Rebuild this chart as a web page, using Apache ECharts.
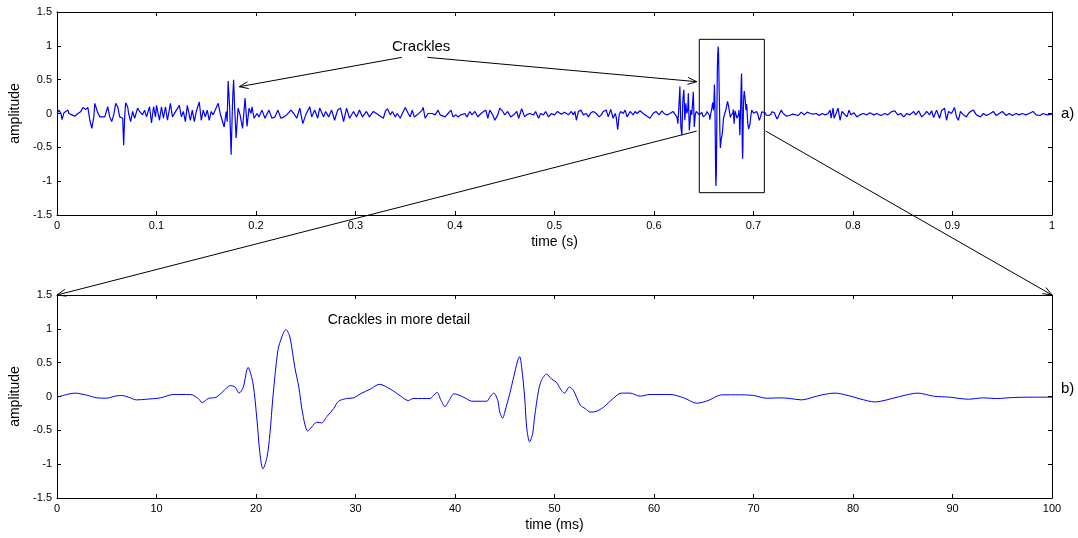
<!DOCTYPE html>
<html>
<head>
    <meta charset="UTF-8">
    <title>Crackles</title>
</head>
<body style="margin: 0; background: #fff">
<div id="container" style="width: 1078px; height: 538px"></div>

<script type="text/javascript" src="https://cdn.jsdelivr.net/npm/echarts@6/dist/echarts.min.js"></script>
<script type="text/javascript">
    // a) whole recording, [time (s), amplitude], before the zoomed window
    var wideBefore = [
        [0.000, 0.0], [0.002, 0.05], [0.004, 0.0], [0.005, -0.09], [0.007, 0.01], [0.011, 0.05], [0.012, 0.0],
        [0.015, -0.02], [0.018, -0.04], [0.021, 0.0], [0.024, 0.03], [0.026, 0.09], [0.029, 0.06], [0.031, 0.09],
        [0.033, -0.1], [0.035, -0.22], [0.037, -0.05], [0.038, 0.15], [0.041, 0.01], [0.043, -0.05], [0.045, -0.07],
        [0.048, -0.05], [0.051, 0.1], [0.053, -0.05], [0.055, -0.12], [0.057, -0.02], [0.059, 0.15], [0.061, 0.1],
        [0.063, -0.05], [0.065, -0.05], [0.066, -0.07], [0.067, -0.47], [0.068, -0.05], [0.069, 0.16], [0.071, 0.1],
        [0.072, 0.0], [0.074, -0.12], [0.076, 0.03], [0.078, -0.07], [0.081, 0.08], [0.083, 0.03], [0.086, -0.02],
        [0.088, 0.05], [0.090, -0.05], [0.093, 0.1], [0.095, -0.14], [0.097, 0.1], [0.099, -0.05], [0.100, 0.12],
        [0.103, -0.1], [0.105, 0.1], [0.107, -0.07], [0.109, 0.1], [0.111, -0.1], [0.114, 0.15], [0.116, -0.05],
        [0.118, -0.07], [0.120, 0.05], [0.123, 0.12], [0.125, -0.05], [0.127, 0.03], [0.129, -0.12], [0.131, 0.12],
        [0.134, -0.1], [0.136, 0.05], [0.138, -0.12], [0.140, 0.03], [0.143, 0.17], [0.145, -0.1], [0.147, 0.05],
        [0.149, -0.05], [0.151, 0.05], [0.153, -0.1], [0.155, 0.03], [0.157, -0.02], [0.159, 0.05], [0.162, 0.15],
        [0.164, 0.0], [0.166, -0.1], [0.168, -0.2],
        [0.170, 0.03], [0.171, -0.12], [0.172, 0.48], [0.1735, 0.1], [0.175, -0.61], [0.1765, 0.2], [0.1775, 0.5],
        [0.1785, 0.1], [0.180, -0.36], [0.182, 0.08], [0.184, -0.02], [0.1865, -0.22], [0.189, 0.23], [0.191, -0.19],
        [0.193, 0.08], [0.195, 0.0], [0.196, 0.1], [0.198, -0.07], [0.201, 0.0], [0.203, -0.05], [0.206, 0.05],
        [0.209, -0.07], [0.213, 0.05], [0.216, -0.07], [0.219, -0.05], [0.222, 0.05], [0.225, -0.07], [0.228, -0.05],
        [0.231, -0.02], [0.235, 0.05], [0.238, 0.0], [0.241, -0.07], [0.244, 0.08], [0.247, -0.15], [0.250, -0.02],
        [0.254, 0.1], [0.256, -0.05], [0.259, 0.05], [0.262, -0.07], [0.264, 0.08], [0.268, -0.05], [0.270, 0.03],
        [0.273, -0.05], [0.276, 0.05], [0.279, -0.1], [0.282, 0.05], [0.285, 0.08], [0.288, -0.12], [0.291, 0.08],
        [0.294, -0.07], [0.298, 0.03], [0.301, -0.05], [0.304, 0.05], [0.307, -0.05], [0.311, 0.03], [0.314, -0.05],
        [0.318, 0.03], [0.321, 0.0], [0.325, -0.04], [0.328, -0.07], [0.330, 0.03], [0.332, 0.07], [0.335, -0.02],
        [0.337, 0.03], [0.340, -0.05], [0.342, 0.0], [0.345, -0.07], [0.347, 0.0], [0.350, 0.09], [0.352, 0.08],
        [0.353, 0.0], [0.355, -0.05], [0.357, 0.05], [0.359, -0.05], [0.362, -0.02], [0.364, 0.0], [0.367, 0.05],
        [0.368, 0.09], [0.370, -0.07], [0.373, 0.0], [0.375, -0.02], [0.377, 0.0], [0.380, -0.02], [0.383, 0.05],
        [0.385, -0.02], [0.387, 0.0], [0.390, -0.05], [0.393, 0.0], [0.396, 0.05], [0.398, -0.05], [0.401, -0.02],
        [0.403, -0.05], [0.406, -0.02], [0.410, 0.0], [0.412, -0.05], [0.415, 0.03], [0.417, -0.02], [0.420, 0.03],
        [0.423, -0.05], [0.426, 0.0], [0.428, -0.02], [0.431, 0.05], [0.433, -0.07], [0.435, 0.05], [0.438, -0.02],
        [0.440, -0.1], [0.443, -0.02], [0.445, 0.08], [0.448, 0.03], [0.450, -0.02], [0.453, 0.03], [0.456, -0.05],
        [0.459, -0.02], [0.462, 0.03], [0.464, -0.07], [0.467, 0.07], [0.470, -0.05], [0.472, -0.02], [0.475, 0.0],
        [0.479, -0.02], [0.481, 0.03], [0.484, -0.07], [0.486, 0.0], [0.489, -0.02], [0.491, 0.03], [0.494, -0.05],
        [0.497, 0.0], [0.500, -0.02],
        [0.503, 0.03], [0.507, -0.01], [0.510, 0.02], [0.514, -0.02], [0.517, 0.03], [0.519, -0.02], [0.5205, 0.03],
        [0.522, -0.1], [0.524, 0.03], [0.5265, 0.05], [0.529, -0.02], [0.532, 0.0], [0.534, -0.05], [0.5365, 0.01],
        [0.539, 0.03], [0.542, 0.0], [0.545, -0.05], [0.547, -0.02], [0.549, 0.03], [0.552, 0.05], [0.554, -0.05],
        [0.5565, 0.06], [0.559, -0.07], [0.561, 0.0], [0.562, -0.05], [0.5635, -0.24], [0.565, -0.02], [0.5665, 0.03],
        [0.569, 0.0], [0.571, 0.05], [0.573, -0.05], [0.576, 0.03], [0.579, -0.02], [0.581, 0.03], [0.583, 0.0],
        [0.586, 0.04], [0.589, 0.0], [0.593, -0.04], [0.596, -0.07], [0.599, 0.0], [0.602, 0.03], [0.605, -0.02],
        [0.608, 0.04], [0.610, 0.0], [0.613, -0.02], [0.616, 0.0], [0.619, 0.03], [0.621, 0.05], [0.623, -0.05],
        [0.624, -0.15], [0.625, 0.1], [0.626, 0.4], [0.627, -0.2], [0.628, -0.32], [0.629, 0.2], [0.630, 0.35],
        [0.631, -0.1], [0.632, 0.15], [0.633, 0.0], [0.634, 0.07], [0.6345, 0.3], [0.6355, -0.25], [0.637, 0.05],
        [0.638, -0.02], [0.6395, 0.32], [0.6405, -0.2]
    ];

    // b) zoomed window, [time (ms), amplitude]
    var detail = [
        [0, -0.01], [1, 0.03], [1.8, 0.05], [3, 0.02], [4, -0.02], [5, -0.025], [5.8, 0.005], [6.5, 0.015],
        [7.2, -0.01], [8, -0.05], [9, -0.04], [10.4, -0.02], [11.7, 0.03], [13.4, 0.03], [14.2, -0.03], [14.6, -0.09],
        [15.2, -0.03], [16, -0.01], [16.8, 0.09], [17.4, 0.16], [17.9, 0.14], [18.3, 0.05], [18.7, 0.13], [19.2, 0.43],
        [19.7, 0.19], [20.1, -0.35], [20.4, -0.85], [20.7, -1.07], [21.1, -0.9], [21.4, -0.55], [21.7, -0.01],
        [22.2, 0.68], [22.6, 0.88], [23.0, 0.99], [23.4, 0.88], [23.9, 0.43], [24.3, 0.14], [24.7, -0.26],
        [25.2, -0.51], [25.6, -0.45], [26.1, -0.38], [26.6, -0.39], [27.1, -0.3], [27.8, -0.18], [28.3, -0.07],
        [29.1, -0.03], [29.8, -0.02], [30.5, 0.04], [31.5, 0.11], [32.4, 0.18], [33.5, 0.11], [34.5, 0.01],
        [35.3, -0.06], [35.8, -0.03], [37.5, -0.03], [37.8, 0.01], [38.2, 0.06], [38.6, -0.06], [39.0, -0.15],
        [39.4, -0.06], [39.9, 0.04], [40.5, 0.015], [41.0, -0.02], [41.7, -0.07], [42.3, -0.07], [43.2, -0.07],
        [43.5, -0.01], [43.9, 0.05], [44.3, -0.06], [44.5, -0.23], [44.8, -0.32], [45.0, -0.23], [45.5, 0.04],
        [45.9, 0.29], [46.3, 0.53], [46.5, 0.59], [46.7, 0.43], [47.0, -0.01], [47.2, -0.45], [47.5, -0.67],
        [47.8, -0.55], [48.0, -0.3], [48.4, 0.09], [48.7, 0.24], [49.2, 0.33], [49.7, 0.26], [50.2, 0.21],
        [50.6, 0.11], [51.0, 0.05], [51.5, 0.14], [51.9, 0.09], [52.6, -0.13], [53.1, -0.18], [53.6, -0.23],
        [54.2, -0.22], [54.9, -0.16], [55.9, -0.03], [56.7, 0.05], [57.6, 0.05], [58.6, 0.005], [59.6, 0.03],
        [61.6, 0.03], [63.0, -0.02], [64.3, -0.1], [65.0, -0.08], [65.6, -0.05], [66.8, 0.025], [68.6, 0.025],
        [70.0, 0.015], [71.3, -0.025], [72.8, -0.02], [73.7, -0.03], [74.8, -0.05], [76.0, -0.01], [76.9, 0.025],
        [78.2, 0.05], [79.5, 0.015], [80.7, -0.035], [82.2, -0.08], [83.4, -0.05], [84.7, 0.0], [86.5, 0.05],
        [88.1, 0.005], [89.7, -0.01], [91.6, -0.04], [93.1, -0.02], [94.4, -0.03], [96.1, -0.015], [98.1, -0.01],
        [100, -0.01]
    ];

    // a) whole recording after the zoomed window
    var wideAfter = [
        [0.745, -0.03], [0.748, 0.02], [0.751, -0.02], [0.754, 0.02], [0.757, 0.0], [0.760, -0.01], [0.763, 0.0],
        [0.766, -0.03], [0.769, 0.0], [0.772, -0.02], [0.775, 0.0], [0.777, 0.05], [0.778, -0.07], [0.780, 0.08],
        [0.781, -0.07], [0.783, 0.0], [0.785, 0.08], [0.787, -0.1], [0.789, 0.03], [0.791, 0.05], [0.794, -0.05],
        [0.796, 0.05], [0.798, -0.02], [0.801, 0.01], [0.804, -0.05], [0.807, -0.02], [0.810, 0.0], [0.814, -0.02],
        [0.817, 0.01], [0.821, -0.02], [0.824, 0.0], [0.828, -0.03], [0.832, 0.0],
        [0.835, -0.02], [0.839, 0.03], [0.842, 0.04], [0.845, -0.02], [0.848, 0.0], [0.851, -0.05], [0.854, 0.0],
        [0.857, -0.02], [0.861, 0.03], [0.863, -0.02], [0.866, 0.04], [0.869, -0.05], [0.872, -0.01], [0.874, 0.03],
        [0.877, -0.02], [0.879, 0.04], [0.881, -0.06], [0.884, 0.05], [0.887, -0.07], [0.889, 0.04], [0.892, 0.08],
        [0.894, -0.1], [0.896, 0.03], [0.899, 0.0], [0.902, 0.09], [0.904, -0.05], [0.906, -0.1], [0.908, 0.03],
        [0.911, -0.02], [0.914, -0.05], [0.916, 0.0], [0.918, 0.03], [0.921, 0.05], [0.924, -0.02], [0.928, -0.05],
        [0.931, 0.0], [0.934, -0.03], [0.938, 0.0], [0.941, 0.03], [0.944, -0.03], [0.947, 0.0], [0.950, 0.03],
        [0.954, -0.03], [0.957, 0.0], [0.960, -0.03], [0.964, 0.0], [0.967, -0.02], [0.970, 0.0], [0.974, -0.02],
        [0.977, 0.0], [0.981, 0.03], [0.984, -0.02], [0.988, -0.03], [0.991, 0.0], [0.995, -0.02], [1.000, -0.01]
    ];

    var detailStart = 0.6415; // s, where window b) sits inside trace a)

    var FONT = '"Liberation Sans", Arial, sans-serif';

    var dom = document.getElementById('container');
    var myChart = echarts.init(dom);

    var wide = wideBefore.concat(
        detail.map(function (p) { return [detailStart + p[0] / 1000, p[1]]; }),
        wideAfter
    );

    function baseAxis(gridIndex, position, min, max, interval, labels) {
        return {
            type: 'value',
            gridIndex: gridIndex,
            position: position,
            min: min,
            max: max,
            interval: interval,
            axisLine: {show: true, onZero: false, lineStyle: {color: '#000', width: 1}},
            axisTick: {show: true, inside: true, length: 4, lineStyle: {color: '#000', width: 1}},
            splitLine: {show: false},
            axisLabel: {
                show: labels,
                color: '#000',
                fontSize: 11,
                fontFamily: FONT,
                margin: 5,
                formatter: function (v) { return String(Math.round(v * 100) / 100); }
            }
        };
    }

    function xName(ax, name) {
        ax.name = name;
        ax.nameLocation = 'middle';
        ax.nameGap = 20;
        ax.nameTextStyle = {color: '#000', fontSize: 14, fontFamily: FONT};
        return ax;
    }

    function yName(ax, name) {
        ax.name = name;
        ax.nameLocation = 'middle';
        ax.nameGap = 32;
        ax.nameTextStyle = {color: '#000', fontSize: 14, fontFamily: FONT};
        return ax;
    }

    function tag(ax, text, vAlign) {
        ax.name = text;
        ax.nameLocation = 'middle';
        ax.nameRotate = 0;
        ax.nameGap = 9;
        ax.nameTextStyle = {color: '#000', fontSize: 15, fontFamily: FONT, align: 'left', verticalAlign: vAlign};
        return ax;
    }

    var option = {
        backgroundColor: '#fff',
        animation: false,
        grid: [
            {left: 57, top: 12, width: 995, height: 203},
            {left: 57, top: 295, width: 995, height: 203}
        ],
        xAxis: [
            xName(baseAxis(0, 'bottom', 0, 1, 0.1, true), 'time (s)'),
            baseAxis(0, 'top', 0, 1, 0.1, false),
            xName(baseAxis(1, 'bottom', 0, 100, 10, true), 'time (ms)'),
            baseAxis(1, 'top', 0, 100, 10, false)
        ],
        yAxis: [
            yName(baseAxis(0, 'left', -1.5, 1.5, 0.5, true), 'amplitude'),
            tag(baseAxis(0, 'right', -1.5, 1.5, 0.5, false), 'a)', 'middle'),
            yName(baseAxis(1, 'left', -1.5, 1.5, 0.5, true), 'amplitude'),
            tag(baseAxis(1, 'right', -1.5, 1.5, 0.5, false), 'b)', 'bottom')
        ],
        series: [
            {
                type: 'line',
                xAxisIndex: 0,
                yAxisIndex: 0,
                data: wide,
                showSymbol: false,
                silent: true,
                lineStyle: {color: '#0000ff', width: 1.2},
                itemStyle: {color: '#0000ff'}
            },
            {
                type: 'line',
                xAxisIndex: 2,
                yAxisIndex: 2,
                data: detail,
                smooth: 0.3,
                showSymbol: false,
                silent: true,
                lineStyle: {color: '#0000ff', width: 1},
                itemStyle: {color: '#0000ff'}
            }
        ]
    };

    myChart.setOption(option);

    // annotations, placed in data coordinates of each panel
    function px(grid, pt) {
        return myChart.convertToPixel({gridIndex: grid}, pt);
    }

    var black = {stroke: '#000', lineWidth: 1, fill: null};

    function arrow(a, b) {
        var dx = b[0] - a[0], dy = b[1] - a[1];
        var len = Math.sqrt(dx * dx + dy * dy);
        var ux = dx / len, uy = dy / len;
        var L = 9, W = 3.5;
        var bx = b[0] - ux * L, by = b[1] - uy * L;
        return [
            {type: 'line', shape: {x1: a[0], y1: a[1], x2: b[0], y2: b[1]}, style: black, silent: true},
            {
                type: 'polyline',
                shape: {points: [[bx - uy * W, by + ux * W], [b[0], b[1]], [bx + uy * W, by - ux * W]]},
                style: black,
                silent: true
            }
        ];
    }

    var boxA = px(0, [0.6455, 1.096]);
    var boxB = px(0, [0.7109, -1.17]);
    var label1 = px(0, [0.366, 0.99]);
    var label2 = px(1, [27.2, 1.13]);

    var graphic = [].concat(
        arrow(px(0, [0.3466, 0.83]), px(0, [0.1832, 0.396])),
        arrow(px(0, [0.3722, 0.83]), px(0, [0.6429, 0.47])),
        arrow(px(0, [0.6429, -0.26]), px(1, [0, 1.5])),
        arrow(px(0, [0.7123, -0.26]), px(1, [100, 1.5])),
        [
            {
                type: 'rect',
                shape: {x: boxA[0], y: boxA[1], width: boxB[0] - boxA[0], height: boxB[1] - boxA[1]},
                style: black,
                silent: true
            },
            {
                type: 'text',
                x: label1[0],
                y: label1[1],
                style: {text: 'Crackles', font: '15px ' + FONT, fill: '#000', align: 'center', verticalAlign: 'middle'},
                silent: true
            },
            {
                type: 'text',
                x: label2[0],
                y: label2[1],
                style: {text: 'Crackles in more detail', font: '14px ' + FONT, fill: '#000', align: 'left', verticalAlign: 'middle'},
                silent: true
            }
        ]
    );

    myChart.setOption({graphic: graphic});
</script>
</body>
</html>
